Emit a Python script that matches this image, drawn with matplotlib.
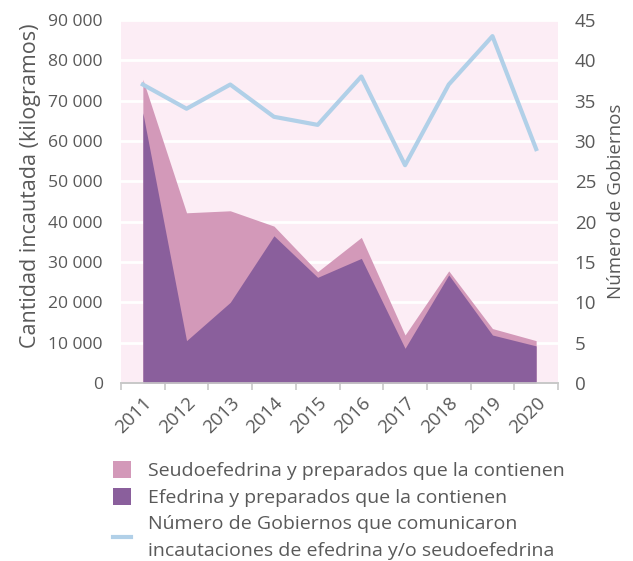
import matplotlib
matplotlib.use("Agg")
import matplotlib.pyplot as plt
import numpy as np
from matplotlib.patches import Patch
from matplotlib.lines import Line2D
from matplotlib.ticker import FuncFormatter

plt.rcParams["font.family"] = ["Open Sans", "DejaVu Sans"]

years = ["2011", "2012", "2013", "2014", "2015", "2016", "2017", "2018", "2019", "2020"]
efedrina = [67000, 10500, 20000, 36500, 26200, 30900, 8600, 26800, 11900, 9200]
seudoefedrina = [8300, 31700, 22700, 2400, 1400, 5200, 3300, 1000, 1600, 1300]
gobiernos = [37, 34, 37, 33, 32, 38, 27, 37, 43, 29]

C_SEUDO = "#d399b9"
C_EFED = "#8a5f9c"
C_LINE = "#b1d0e8"
C_BG = "#fcedf5"
C_TXT = "#595959"
FS = 13.5

fig = plt.figure(figsize=(6.33, 5.61), dpi=100)
ax = fig.add_axes([121 / 633, 1 - 383 / 561, (558 - 121) / 633, (383 - 20) / 561])
ax2 = ax.twinx()

x = np.arange(len(years))
total = np.array(efedrina) + np.array(seudoefedrina)

ax.set_facecolor(C_BG)
ax.fill_between(x, 0, total, color=C_SEUDO, lw=0, zorder=2)
ax.fill_between(x, 0, efedrina, color=C_EFED, lw=0, zorder=3)
ax.set_ylim(0, 90000)
ax.set_xlim(-0.5, len(years) - 0.5)
ax.set_yticks(np.arange(0, 90001, 10000))
ax.yaxis.set_major_formatter(FuncFormatter(lambda v, p: f"{int(v):,}".replace(",", " ")))
ax.grid(axis="y", color="white", lw=2, zorder=1)
ax.set_axisbelow(True)

# boundary ticks, centred labels
ax.set_xticks(np.arange(-0.5, len(years), 1.0))
ax.set_xticklabels([])
ax.set_xticks(x, minor=True)
ax.set_xticklabels(years, minor=True, rotation=45, ha="right", rotation_mode="anchor",
                   fontsize=FS, color=C_TXT)
ax.tick_params(axis="x", which="major", length=5, color="#c8c8c8", width=1.2)
ax.tick_params(axis="x", which="minor", length=0, pad=8)
ax.tick_params(axis="y", length=0, labelsize=12.6, labelcolor=C_TXT, pad=13)
ax.set_ylabel("Cantidad incautada (kilogramos)", fontsize=15.5, color=C_TXT)
ax.yaxis.set_label_coords(-0.208, 0.543)
ax.yaxis.label.set_va("center")

ax2.plot(x, gobiernos, color=C_LINE, lw=3, zorder=4)
ax2.set_ylim(0, 45)
ax2.set_yticks(np.arange(0, 46, 5))
ax2.tick_params(axis="y", length=0, labelsize=13.5, labelcolor=C_TXT, pad=12)
ax2.set_ylabel("Número de Gobiernos", fontsize=FS, color=C_TXT, labelpad=8)

for a in (ax, ax2):
    for side in ("top", "left", "right"):
        a.spines[side].set_visible(False)
    a.spines["bottom"].set_color("#c8c8c8")
    a.spines["bottom"].set_linewidth(1.2)

handles = [
    Patch(facecolor=C_SEUDO, edgecolor="none"),
    Patch(facecolor=C_EFED, edgecolor="none"),
    Line2D([0], [0], color=C_LINE, lw=3),
]
labels = [
    "Seudoefedrina y preparados que la contienen",
    "Efedrina y preparados que la contienen",
    "Número de Gobiernos que comunicaron\nincautaciones de efedrina y/o seudoefedrina",
]
leg = fig.legend(handles, labels, loc="upper left", bbox_to_anchor=(105 / 633, 1 - 453 / 561),
                 frameon=False, fontsize=14, handlelength=0.95, handleheight=0.95,
                 handletextpad=0.85, labelspacing=0.42, borderaxespad=0)
for t in leg.get_texts():
    t.set_color(C_TXT)
    t.set_linespacing(1.65)

fig.savefig("out.png", dpi=100)
